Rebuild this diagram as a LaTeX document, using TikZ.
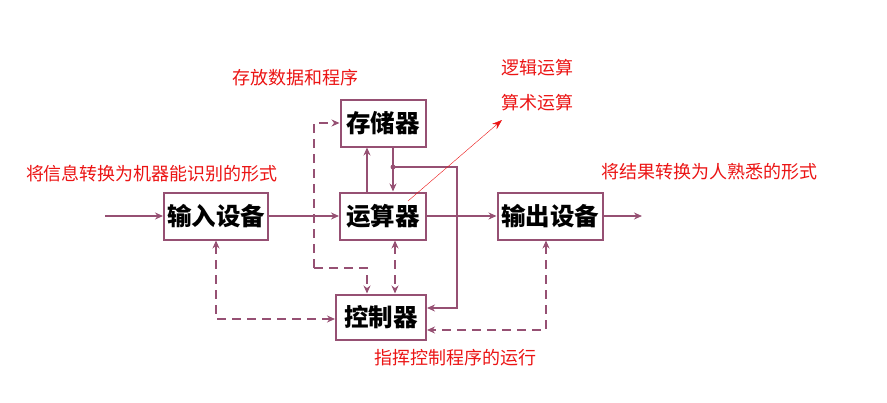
\documentclass[tikz,border=0pt]{standalone}
\usepackage{fontspec}
\usepackage{xcolor}
\setmainfont{Noto Sans CJK SC}
\definecolor{wire}{RGB}{150,80,115}
\definecolor{note}{RGB}{235,20,20}
\usetikzlibrary{arrows.meta}

\tikzset{
    unit/.style={draw=wire, line width=2pt, fill=white, minimum height=47pt, inner sep=0pt, font=\fontsize{24.5}{24.5}\selectfont\bfseries},
    flow/.style={wire, line width=2pt, -{Stealth[length=8pt,width=7pt]}},
    ctl/.style={wire, line width=2pt, dash pattern=on 9pt off 6pt, -{Stealth[length=8pt,width=7pt]}},
    ctltwo/.style={ctl, {Stealth[length=8pt,width=7pt]}-{Stealth[length=8pt,width=7pt]}},
    remark/.style={note, font=\fontsize{18}{18}\selectfont}
}

\begin{document}
\begin{tikzpicture}[x=1pt, y=-1pt]
        \useasboundingbox (0, 0) rectangle (887, 402);

        % units
        \node[unit, minimum width=85pt] (mem) at (383, 123) {存储器};
        \node[unit, minimum width=86pt] (alu) at (383, 216) {运算器};
        \node[unit, minimum width=90pt, minimum height=45pt] (ctrl) at (381, 317) {控制器};
        \node[unit, minimum width=104pt] (in) at (216, 216) {输入设备};
        \node[unit, minimum width=105pt] (out) at (550, 216) {输出设备};

        % data path
        \coordinate (src) at (105, 216);
        \coordinate (sink) at (642, 216);
        \draw[flow] (src) -- (in);
        \draw[flow] (in) -- (alu);
        \draw[flow] (alu) -- (out);
        \draw[flow] (out) -- (sink);
        \draw[flow] ([xshift=-16pt]alu.north) -- ([xshift=-16pt]mem.south);
        \draw[flow] ([xshift=10pt]mem.south) -- ([xshift=10pt]alu.north);

        \coordinate (jn) at (393, 167);
        \coordinate (ret) at (457, 308);
        \filldraw[wire] (jn) circle (2.2pt);
        \draw[flow] (jn) -| (ret) -- (ctrl.east |- ret);

        % control path
        \coordinate (bend) at (314, 268);
        \draw[ctl] (bend) |- (mem.west);
        \draw[ctl] (bend) -| ([xshift=-14pt]ctrl.north);
        \draw[ctltwo] ([xshift=12pt]alu.south) -- ([xshift=14pt]ctrl.north);
        \draw[ctltwo] (in.south) |- ([yshift=-2pt]ctrl.west);
        \draw[ctltwo] ([xshift=-4pt]out.south) |- ([yshift=-13pt]ctrl.east);

        % remarks
        \node[remark] (store) at (295, 78) {存放数据和程序};
        \node[remark] (logic) at (537, 68) {逻辑运算};
        \node[remark] (arith) at (537, 103) {算术运算};
        \node[remark] (inremark) at (152, 174) {将信息转换为机器能识别的形式};
        \node[remark] (outremark) at (709, 172) {将结果转换为人熟悉的形式};
        \node[remark] (ctrlremark) at (455, 358) {指挥控制程序的运行};

        \coordinate (ptr) at (408, 201);
        \coordinate (ptrend) at (502, 120);
        \draw[note, thin, -{Stealth[length=10pt,width=7pt]}] (ptr) -- (ptrend);
    \end{tikzpicture}
\end{document}
